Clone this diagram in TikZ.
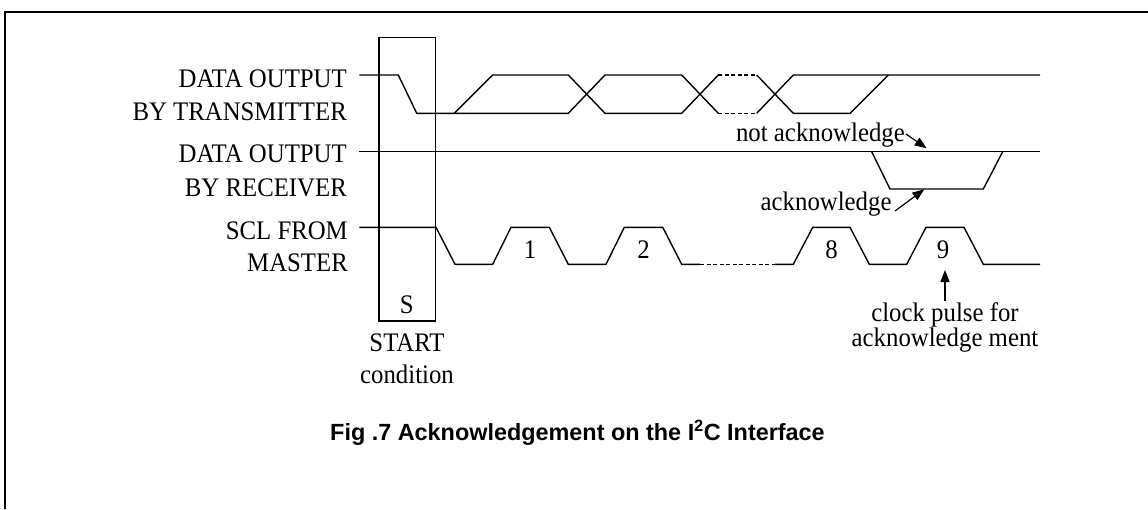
\documentclass[tikz,border=0pt]{standalone}
\usepackage{fontspec}
\usepackage{graphicx}
\setmainfont{Liberation Serif}
\newfontfamily\capfont{Liberation Sans}
\usetikzlibrary{arrows.meta}
\newcommand\tl[1]{\scalebox{1}[1.08]{#1}}
\begin{document}
\begin{tikzpicture}[x=1pt,y=-1pt,
  sig/.style={line width=1.4pt,line join=miter},
  dsh/.style={line width=1.4pt,dash pattern=on 4pt off 2.5pt},
  lbl/.style={inner sep=0pt,font=\fontsize{24.8}{33}\selectfont},
  arr/.style={line width=1.2pt,-{Triangle[length=12pt,width=9pt]}}]
\useasboundingbox (0,0) rectangle (1148,509);
% frame
\draw[line width=2pt] (4.5,509) -- (4.5,11.5) -- (1148,11.5);
% start box
\node[draw,line width=1.4pt,inner sep=0pt,minimum width=56.7pt,minimum height=283.7pt] (sbox) at (407.35,179.15) {};
\node[lbl,anchor=base] (S) at (406.7,313.3) {\tl{S}};
\node[lbl,anchor=base] (start) at (407,351) {\tl{START}};
\node[lbl,anchor=base] (cond) at (407,383.5) {\tl{condition}};
% left labels
\node[lbl,anchor=base east] (l1a) at (347,87.7) {\tl{DATA OUTPUT}};
\node[lbl,anchor=base east] (l1b) at (347,120.7) {\tl{BY TRANSMITTER}};
\node[lbl,anchor=base east] (l2a) at (347,162.7) {\tl{DATA OUTPUT}};
\node[lbl,anchor=base east] (l2b) at (347,196.7) {\tl{BY RECEIVER}};
\node[lbl,anchor=base east] (l3a) at (348,239.3) {\tl{SCL FROM}};
\node[lbl,anchor=base east] (l3b) at (348,271.7) {\tl{MASTER}};
% transmitter data
\draw[sig] (359.3,75) -- (398.3,75) -- (416.7,113.3) -- (568.3,113.3) -- (605,75) -- (681.7,75) -- (718.3,113.3);
\draw[sig] (454.3,113.3) -- (492.7,75) -- (568.3,75) -- (605,113.3) -- (681.7,113.3) -- (718.3,75);
\draw[dsh] (718.3,75) -- (756.7,75);
\draw[dsh] (718.3,113.3) -- (756.7,113.3);
\draw[sig] (756.7,75) -- (793.3,113.3) -- (850,113.3) -- (888.3,75);
\draw[sig] (756.7,113.3) -- (793.3,75) -- (1040,75);
% receiver data
\draw[sig] (359.3,151.7) -- (1040,151.7);
\draw[sig] (871.7,151.7) -- (890,189) -- (983.3,189) -- (1002.7,151.7);
% SCL
\draw[sig] (359.3,227.3) -- (436,227.3) -- (455,264.3) -- (492.7,264.3) -- (511,227.3) -- (549.3,227.3) -- (568.3,264.3) -- (606,264.3) -- (624.3,227.3) -- (662.7,227.3) -- (681.7,264.3) -- (700,264.3);
\draw[dsh] (700,264.3) -- (775,264.3);
\draw[sig] (775,264.3) -- (793.3,264.3) -- (812.7,227.3) -- (850,227.3) -- (869.3,264.3) -- (906.7,264.3) -- (926,227.3) -- (964,227.3) -- (983.3,264.3) -- (1040,264.3);
% pulse numbers
\node[lbl,anchor=base] (n1) at (530,258) {\tl{1}};
\node[lbl,anchor=base] (n2) at (643.5,258) {\tl{2}};
\node[lbl,anchor=base] (n8) at (831.5,258) {\tl{8}};
\node[lbl,anchor=base] (n9) at (943,258) {\tl{9}};
% annotations
\node[lbl,anchor=base east] (nack) at (905,141.7) {\tl{not acknowledge}};
\coordinate (nackS) at (906,134);
\coordinate (nackT) at (926.7,148.3);
\draw[arr] (nackS) -- (nackT);
\node[lbl,anchor=base east] (ack) at (891.7,210) {\tl{acknowledge}};
\coordinate (ackS) at (895,211);
\coordinate (ackT) at (924.3,189.3);
\draw[arr] (ackS) -- (ackT);
\node[lbl,anchor=base] (cp1) at (945,321.5) {\tl{clock pulse for}};
\node[lbl,anchor=base] (cp2) at (945,346) {\tl{acknowledge ment}};
\coordinate (cpT) at (945,270);
\draw[arr] (cp1.north) ++(0,-1) -- (cpT);
% caption
\node[inner sep=0pt,anchor=base west,font=\capfont\bfseries\fontsize{23.4}{26}\selectfont] (cap) at (330,440.5) {Fig .7 Acknowledgement on the I\textsuperscript{2}C Interface};
\end{tikzpicture}
\end{document}
